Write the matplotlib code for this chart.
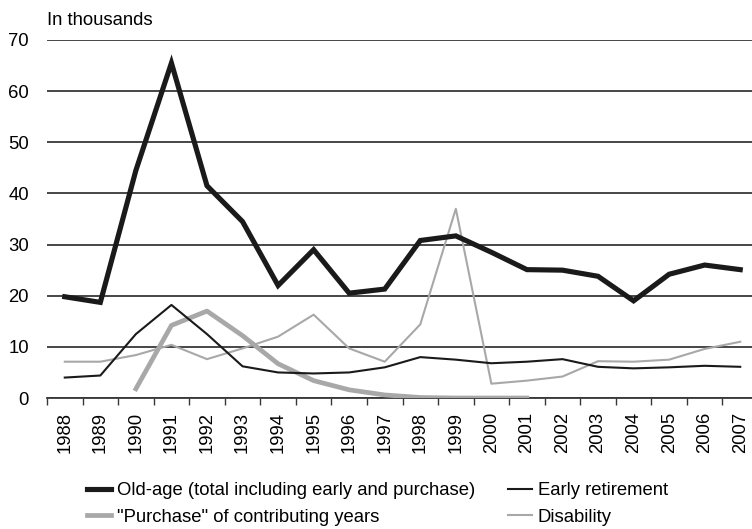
import matplotlib
matplotlib.use("Agg")
import matplotlib.pyplot as plt
import numpy as np

plt.rcParams['font.family'] = ['Liberation Sans', 'DejaVu Sans']

years = [str(y) for y in range(1988, 2008)]
old_age = [19.8, 18.7, 44.5, 65.5, 41.5, 34.5, 22.0, 29.0, 20.5, 21.3,
           30.8, 31.7, 28.5, 25.1, 25.0, 23.8, 19.0, 24.2, 26.0, 25.1]
early = [4.0, 4.4, 12.5, 18.2, 12.5, 6.2, 5.0, 4.8, 5.0, 6.0,
         8.0, 7.5, 6.8, 7.1, 7.6, 6.1, 5.8, 6.0, 6.3, 6.1]
purchase_years = years[2:14]
purchase = [1.8, 14.2, 17.0, 12.2, 6.7, 3.4, 1.6, 0.6, 0.1, 0.0, 0.0, 0.0]
disability = [7.1, 7.1, 8.4, 10.4, 7.6, 9.7, 12.0, 16.3, 9.7, 7.1,
              14.4, 37.0, 2.8, 3.4, 4.2, 7.2, 7.1, 7.5, 9.6, 11.0]

black = '#1a1a1a'
gray = '#a8a8a8'
FS = 13.3

fig = plt.figure(figsize=(7.52, 5.29), dpi=100)
ax = fig.add_axes([0.0625, 0.2476, 0.9455, 0.6768])

x = np.arange(len(years))
xp = np.arange(2, 2 + len(purchase))

ax.plot(x, old_age, color=black, lw=3.7, solid_joinstyle='miter',
        label='Old-age (total including early and purchase)', zorder=5)
ax.plot(x, early, color=black, lw=1.5, label='Early retirement', zorder=4)
ax.plot(xp, purchase, color=gray, lw=3.4, label='"Purchase" of contributing years', zorder=3)
ax.plot(x, disability, color=gray, lw=1.5, label='Disability', zorder=3)

ax.set_xlim(-0.5, len(years) - 0.5)
ax.set_ylim(0, 70)
ax.set_yticks(range(0, 71, 10))
ax.yaxis.grid(True, color='#383838', lw=1.3)
ax.set_axisbelow(True)
for s in ['left', 'right', 'top']:
    ax.spines[s].set_visible(False)
ax.spines['bottom'].set_color('#383838')
ax.spines['bottom'].set_linewidth(1.3)
ax.tick_params(axis='y', length=0, labelsize=FS, pad=13)
ax.set_xticks(x)
ax.set_xticklabels(years, rotation=90, fontsize=FS)
ax.tick_params(axis='x', which='major', length=0, pad=10)
ax.set_xticks(np.arange(-0.5, len(years)), minor=True)
ax.tick_params(axis='x', which='minor', length=5, width=1.0, color='#383838', direction='out')

fig.text(0.0625, 0.962, 'In thousands', fontsize=FS, ha='left', va='center')

handles, labels = ax.get_legend_handles_labels()
leg = fig.legend([handles[i] for i in [0, 2, 1, 3]], [labels[i] for i in [0, 2, 1, 3]],
                 loc='upper left', bbox_to_anchor=(0.1157, 0.088), ncol=2, frameon=False,
                 fontsize=FS, handlelength=1.3, handletextpad=0.3, columnspacing=1.8,
                 labelspacing=0.5, borderaxespad=0, borderpad=0)

fig.savefig('out.png', dpi=100)
